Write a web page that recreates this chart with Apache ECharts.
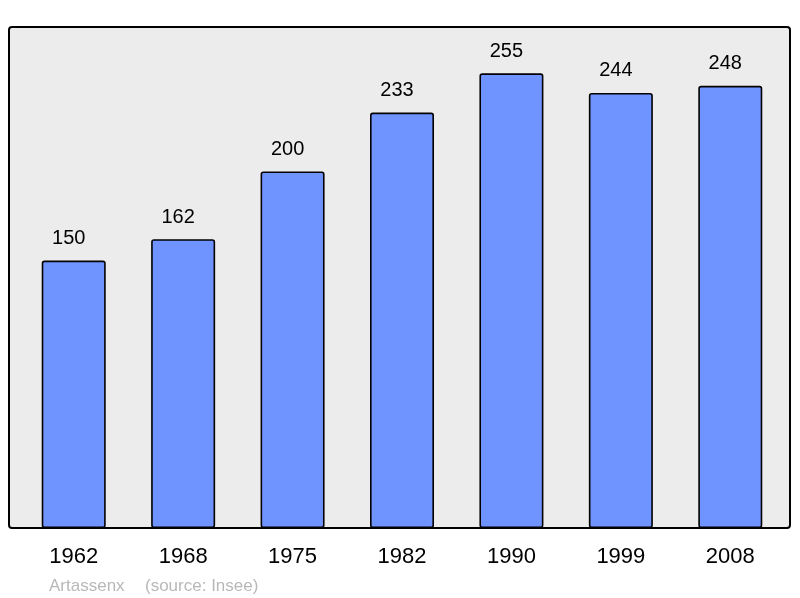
<!DOCTYPE html>
<html>
<head>
<meta charset="utf-8">
<script src="https://cdn.jsdelivr.net/npm/echarts@6/dist/echarts.min.js"></script>
<style>
  html, body { margin: 0; padding: 0; background: #fff; }
  #chartmain { width: 800px; height: 598px; }
</style>
</head>
<body>
<div id="chartmain"></div>
<script>
var years = ['1962', '1968', '1975', '1982', '1990', '1999', '2008'];
var population = [150, 162, 200, 233, 255, 244, 248];

var myChart = echarts.init(document.getElementById('chartmain'));

var option = {
    animation: false,
    textStyle: { fontFamily: 'Liberation Sans, Arial, sans-serif' },
    grid: { left: 19, right: 15, top: 27, bottom: 70 },
    graphic: [
        {
            type: 'rect',
            z: -10,
            shape: { x: 9, y: 27, width: 781, height: 501, r: 3 },
            style: { fill: '#ececec', stroke: '#000', lineWidth: 2 }
        },
        {
            type: 'text',
            left: 49,
            top: 578,
            style: { text: 'Artassenx', fill: '#b8b8b8', fontSize: 17, fontFamily: 'Liberation Sans' }
        },
        {
            type: 'text',
            left: 145,
            top: 578,
            style: { text: '(source: Insee)', fill: '#b8b8b8', fontSize: 17, fontFamily: 'Liberation Sans' }
        }
    ],
    xAxis: {
        type: 'category',
        data: years,
        axisLine: { show: false },
        axisTick: { show: false },
        axisLabel: { fontSize: 22, color: '#000', margin: 18 }
    },
    yAxis: {
        type: 'value',
        min: 0,
        max: 281,
        show: false,
        splitLine: { show: false }
    },
    series: [{
        type: 'bar',
        data: population,
        barWidth: 64,
        itemStyle: { color: '#7094ff', borderColor: '#000', borderWidth: 1.6, borderRadius: 2 },
        label: { show: true, position: 'top', distance: 12, offset: [-5, 0], fontSize: 20, color: '#000' }
    }]
};

myChart.setOption(option);
</script>
</body>
</html>
